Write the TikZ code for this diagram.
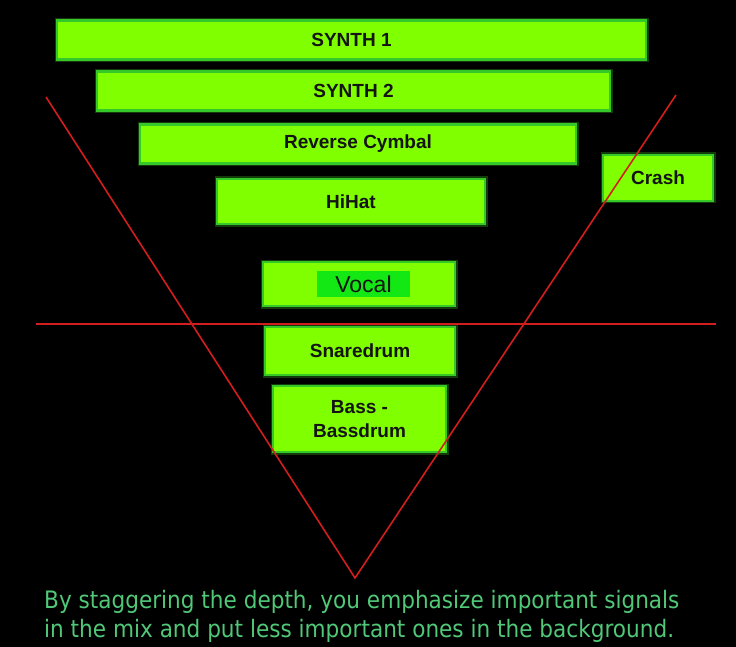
\documentclass[tikz,border=0pt]{standalone}
\usepackage{fontspec}
\setmainfont{Liberation Sans}
\newfontfamily\capfont[FakeStretch=0.9]{DejaVu Sans}
\definecolor{boxfill}{RGB}{128,255,0}
\definecolor{boxline}{RGB}{52,200,40}
\definecolor{glow}{RGB}{40,120,20}
\definecolor{vocalin}{RGB}{20,232,20}
\definecolor{redline}{RGB}{210,30,30}
\definecolor{captext}{RGB}{80,200,120}
\definecolor{boxtext}{RGB}{20,20,20}
\begin{document}
\begin{tikzpicture}[x=1pt,y=-1pt,
  trackbox/.style={draw=boxline, fill=boxfill, line width=2.2pt, inner sep=0pt,
    preaction={draw=glow, line width=5pt, opacity=0.5},
    text=boxtext, font=\fontsize{19}{23}\selectfont\bfseries, align=center},
  redstroke/.style={draw=redline, line width=1.6pt}]
\fill[black] (0,0) rectangle (736,647);
\useasboundingbox (0,0) rectangle (736,647);
% boxes: corners in pixel coordinates
\node[trackbox, minimum width=589pt, minimum height=39pt] (synth1) at (351.5,40) {SYNTH 1};
\node[trackbox, minimum width=513pt, minimum height=39pt] (synth2) at (353.5,91) {SYNTH 2};
\node[trackbox, minimum width=436pt, minimum height=39pt] (revcym) at (358,144) {Reverse Cymbal};
\node[trackbox, minimum width=268pt, minimum height=45pt] (hihat) at (351,201.5) {HiHat};
\node[trackbox, minimum width=110pt, minimum height=46pt] (crash) at (658,178) {Crash};
\node[trackbox, minimum width=192pt, minimum height=44pt] (vocal) at (359,284) {};
\node[fill=vocalin, minimum width=93pt, minimum height=26pt, inner sep=0pt,
  text=boxtext, font=\fontsize{23}{27}\selectfont] (vocaltxt) at (363.5,284) {Vocal};
\node[trackbox, minimum width=190pt, minimum height=48pt] (snare) at (360,351) {Snaredrum};
\node[trackbox, minimum width=173pt, minimum height=66pt,
  font=\fontsize{19}{24}\selectfont\bfseries] (bass) at (359.5,419) {Bass -\\Bassdrum};
% red lines
\coordinate (vl) at (46,97);
\coordinate (vr) at (676,95);
\coordinate (vb) at (355,578);
\coordinate (hl) at (36,324);
\coordinate (hr) at (716,324);
\draw[redstroke, line join=miter] (vl) -- (vb) -- (vr);
\draw[redstroke] (hl) -- (hr);
% caption
\node[anchor=north west, inner sep=0pt, align=left, text=captext,
  font=\capfont\fontsize{24}{29}\selectfont] (caption) at (44,590)
  {By staggering the depth, you emphasize important signals\\in the mix and put less important ones in the background.};
\end{tikzpicture}
\end{document}
